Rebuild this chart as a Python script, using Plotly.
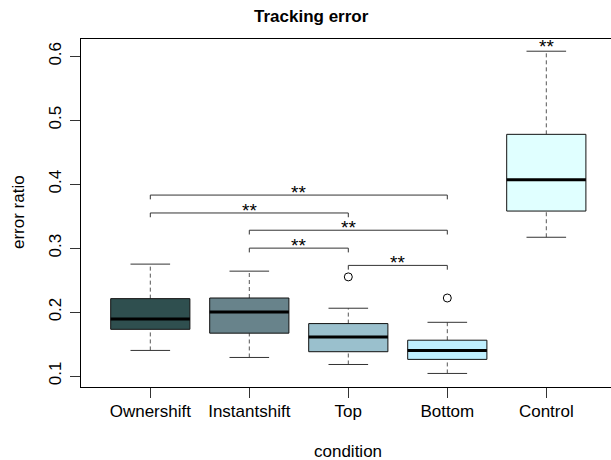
import plotly.graph_objects as go

# ---- data ----
categories = ["Ownershift", "Instantshift", "Top", "Bottom", "Control"]
lower_whisker = [0.140, 0.129, 0.118, 0.104, 0.317]
q1 = [0.173, 0.167, 0.138, 0.126, 0.358]
median = [0.189, 0.200, 0.161, 0.140, 0.407]
q3 = [0.221, 0.222, 0.182, 0.156, 0.478]
upper_whisker = [0.275, 0.264, 0.206, 0.184, 0.608]
outlier_cat = [3, 4]
outlier_val = [0.255, 0.222]
fill_colors = ["#2F4F4F", "#68838B", "#9AC0CD", "#BFEFFF", "#E0FFFF"]

# significance brackets: (from category, to category, height)
bracket_from = [1, 1, 2, 2, 3]
bracket_to = [4, 3, 4, 3, 4]
bracket_height = [0.383, 0.355, 0.328, 0.300, 0.273]
bracket_label = ["**", "**", "**", "**", "**"]
control_label = "**"

y_ticks = [0.1, 0.2, 0.3, 0.4, 0.5, 0.6]

BOXW = 0.4
CAPW = 0.2
TICKDROP = 0.0067

FONT = "Liberation Sans, Arial, Helvetica, sans-serif"
LABEL_SIZE = 17

W, H = 611, 460
ML, MT, MB = 81, 39, 73
PW, PH = W - ML, H - MT - MB

fig = go.Figure()
shapes = []
for i, cat in enumerate(categories):
    xc = i + 1
    shapes.append(dict(type="line", x0=xc, x1=xc, y0=q3[i], y1=upper_whisker[i],
                       line=dict(color="#555555", width=1, dash="4px,3px"), layer="above"))
    shapes.append(dict(type="line", x0=xc, x1=xc, y0=lower_whisker[i], y1=q1[i],
                       line=dict(color="#555555", width=1, dash="4px,3px"), layer="above"))
    for v in (upper_whisker[i], lower_whisker[i]):
        shapes.append(dict(type="line", x0=xc - CAPW, x1=xc + CAPW, y0=v, y1=v,
                           line=dict(color="#333333", width=1), layer="above"))
    shapes.append(dict(type="rect", x0=xc - BOXW, x1=xc + BOXW, y0=q1[i], y1=q3[i],
                       fillcolor=fill_colors[i], line=dict(color="#111111", width=1), layer="above"))
    shapes.append(dict(type="line", x0=xc - BOXW, x1=xc + BOXW, y0=median[i], y1=median[i],
                       line=dict(color="black", width=3), layer="above"))

annotations = []
for a, b, h, lab in zip(bracket_from, bracket_to, bracket_height, bracket_label):
    shapes.append(dict(type="line", x0=a, x1=b, y0=h, y1=h,
                       line=dict(color="#333333", width=1), layer="above"))
    shapes.append(dict(type="line", x0=a, x1=a, y0=h, y1=h - TICKDROP,
                       line=dict(color="#333333", width=1), layer="above"))
    shapes.append(dict(type="line", x0=b, x1=b, y0=h, y1=h - TICKDROP,
                       line=dict(color="#333333", width=1), layer="above"))
    annotations.append(dict(x=(a + b) / 2, y=h, text=lab, showarrow=False,
                            xref="x", yref="y", yanchor="bottom", yshift=-10,
                            font=dict(size=19, color="black", family=FONT)))
annotations.append(dict(x=5, y=upper_whisker[4], text=control_label, showarrow=False,
                        xref="x", yref="y", yanchor="bottom", yshift=-8,
                        font=dict(size=19, color="black", family=FONT)))

def px(x):
    return (x - ML) / PW

def py(y):
    return (H - MB - y) / PH

annotations.append(dict(text="condition", xref="paper", yref="paper", x=px(348), y=py(451),
                        xanchor="center", yanchor="middle", showarrow=False,
                        font=dict(size=LABEL_SIZE, family=FONT)))
annotations.append(dict(text="error ratio", xref="paper", yref="paper", x=px(18), y=py(212),
                        xanchor="center", yanchor="middle", textangle=-90,
                        showarrow=False, font=dict(size=LABEL_SIZE, family=FONT)))
annotations.append(dict(text="<b>Tracking error</b>", xref="paper", yref="paper",
                        x=px(311), y=py(17), xanchor="center",
                        yanchor="middle", showarrow=False, font=dict(size=17, family=FONT)))

fig.add_trace(go.Scatter(x=outlier_cat, y=outlier_val, mode="markers",
                         marker=dict(symbol="circle-open", size=8, color="black",
                                     line=dict(width=1, color="black")),
                         showlegend=False, hoverinfo="skip"))

fig.update_layout(
    width=W, height=H,
    margin=dict(l=ML, r=0, t=MT, b=MB, autoexpand=False),
    paper_bgcolor="white", plot_bgcolor="white",
    font=dict(family=FONT, size=LABEL_SIZE, color="black"),
    showlegend=False,
    shapes=shapes,
    annotations=annotations,
    xaxis=dict(range=[0.3, 0.3 + PW / 99], tickvals=[1, 2, 3, 4, 5], ticktext=categories,
               showline=True, mirror=True, linecolor="black", linewidth=1,
               ticks="outside", ticklen=10, tickcolor="#333333", showgrid=False, zeroline=False,
               ticklabelstandoff=-1, automargin=False),
    yaxis=dict(range=[0.0828, 0.6271], tickvals=y_ticks, ticktext=[str(v) for v in y_ticks],
               tickangle=-90, showline=True, mirror=False, linecolor="black", linewidth=1,
               ticks="outside", ticklen=10, tickcolor="#333333", showgrid=False, zeroline=False,
               ticklabelstandoff=2, automargin=False),
)

fig.write_html("out.html", config={"displayModeBar": False},
               post_script="document.body.style.margin='0';document.body.style.overflow='hidden';")
